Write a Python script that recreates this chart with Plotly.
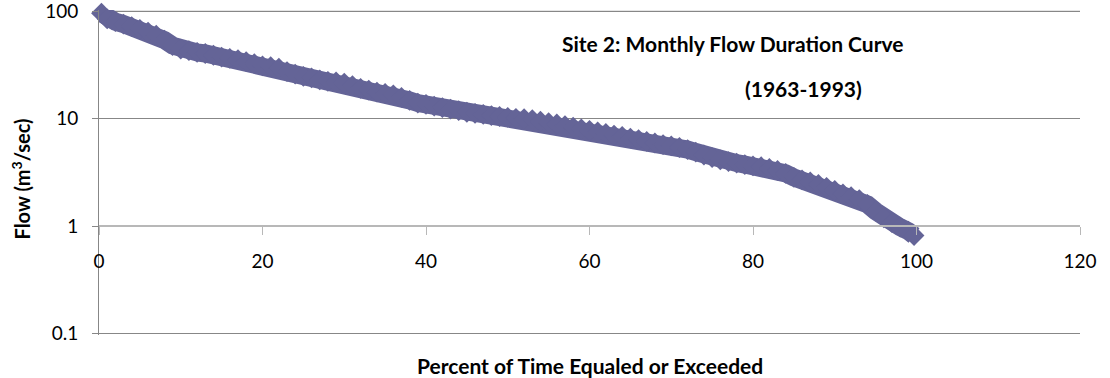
import plotly.graph_objects as go

# monthly flow duration curve, site 2
PERCENT = [
    0.3, 1, 2, 3, 4, 5, 6, 7, 8, 9,
    10, 11, 12, 13, 14, 15, 16, 17, 18, 19,
    20, 21, 22, 23, 24, 25, 26, 27, 28, 29,
    30, 31, 32, 33, 34, 35, 36, 37, 38, 39,
    40, 41, 42, 43, 44, 45, 46, 47, 48, 49,
    50, 51, 52, 53, 54, 55, 56, 57, 58, 59,
    60, 61, 62, 63, 64, 65, 66, 67, 68, 69,
    70, 71, 72, 73, 74, 75, 76, 77, 78, 79,
    80, 81, 82, 83, 84, 85, 86, 87, 88, 89,
    90, 91, 92, 93, 94, 95, 96, 97, 98, 99,
    99.7
]

FLOW = [
    96, 85, 80, 76, 72, 68, 64, 60, 54, 48,
    44.5, 43, 41.5, 40.5, 39, 37.5, 36.5, 35.5, 34, 32.5,
    31, 30.5, 29.5, 27.5, 26, 24.8, 24, 23, 22.3, 22,
    21.5, 20.3, 19.2, 18.5, 17.7, 17.2, 16.7, 15.8, 14.8, 14.0,
    13.6, 13.1, 12.7, 12.3, 11.9, 11.5, 11.2, 11.0, 10.7, 10.5,
    10.3, 10.1, 10.0, 9.8, 9.5, 9.2, 8.95, 8.65, 8.35, 8.05,
    7.8, 7.55, 7.3, 7.05, 6.85, 6.6, 6.4, 6.15, 5.95, 5.75,
    5.6, 5.4, 5.17, 4.9, 4.6, 4.35, 4.15, 4.0, 3.87, 3.75,
    3.65, 3.58, 3.45, 3.3, 3.1, 2.85, 2.7, 2.58, 2.45, 2.3,
    2.15, 2.0, 1.88, 1.77, 1.6, 1.38, 1.2, 1.08, 0.98, 0.9,
    0.82
]

X_TICKS = [0, 20, 40, 60, 80, 100, 120]
Y_TICKS = [0.1, 1, 10, 100]
Y_LABELS = ["0.1", "1", "10", "100"]

SERIES_COLOR = "#646497"
GRID = "#878787"
FONT = "Lato, Carlito, sans-serif"

# log range padded a little so the edge gridlines are not dropped
Y_RANGE = [-1.012, 2.012]

fig = go.Figure()

fig.add_trace(go.Scatter(
    x=PERCENT,
    y=FLOW,
    mode="lines+markers",
    line=dict(color=SERIES_COLOR, width=18),
    marker=dict(symbol="diamond", size=16, color=SERIES_COLOR),
    cliponaxis=False,
    showlegend=False
))

fig.update_layout(
    width=1110,
    height=378,
    font=dict(family=FONT, size=19, color="#000000"),
    plot_bgcolor="white",
    paper_bgcolor="white",
    margin=dict(t=10, b=43, l=99, r=30, autoexpand=False),
    showlegend=False
)

fig.update_xaxes(
    range=[0, 120],
    tickvals=X_TICKS,
    showgrid=False,
    zeroline=False,
    showline=True,
    linecolor="#b8b8b8",
    linewidth=2,
    ticks="outside",
    ticklen=8,
    tickcolor="#b8b8b8",
    ticklabelstandoff=10,
    anchor="free",
    position=(0 - Y_RANGE[0]) / (Y_RANGE[1] - Y_RANGE[0])
)

fig.update_yaxes(
    type="log",
    range=Y_RANGE,
    tickvals=Y_TICKS,
    ticktext=Y_LABELS,
    showgrid=True,
    gridcolor=GRID,
    gridwidth=1,
    zeroline=False,
    showline=True,
    linecolor=GRID,
    ticks="outside",
    ticklen=6,
    tickcolor=GRID,
    ticklabelstandoff=10,
    ticklabeloverflow="allow"
)

# plotly drops the top gridline (100) next to the edge, so draw it explicitly
fig.add_shape(
    type="line", xref="paper", yref="y",
    x0=0, x1=1, y0=Y_TICKS[-1], y1=Y_TICKS[-1],
    line=dict(color=GRID, width=1), layer="below"
)

# chart title, placed inside the plot like the original
fig.add_annotation(
    x=77.6, y=1.70, xref="x", yref="y",
    text="<b>Site 2: Monthly Flow Duration Curve</b>",
    showarrow=False, font=dict(size=21)
)
fig.add_annotation(
    x=86.2, y=1.28, xref="x", yref="y",
    text="<b>(1963-1993)</b>",
    showarrow=False, font=dict(size=21)
)

# axis titles
fig.add_annotation(
    x=60.1, y=-0.093, xref="x", yref="paper",
    text="<b>Percent of Time Equaled or Exceeded</b>",
    showarrow=False, font=dict(size=21), yanchor="middle"
)
fig.add_annotation(
    x=-0.08, y=0.48, xref="paper", yref="paper",
    text="<b>Flow (m<sup>3</sup>/sec)</b>",
    textangle=-90, showarrow=False, font=dict(size=20),
    xanchor="center", yanchor="middle"
)

# drop the browser's default body margin so the figure fills the window
fig.write_html(
    "out.html",
    config={"displayModeBar": False},
    post_script="document.body.style.margin = '0';"
)
